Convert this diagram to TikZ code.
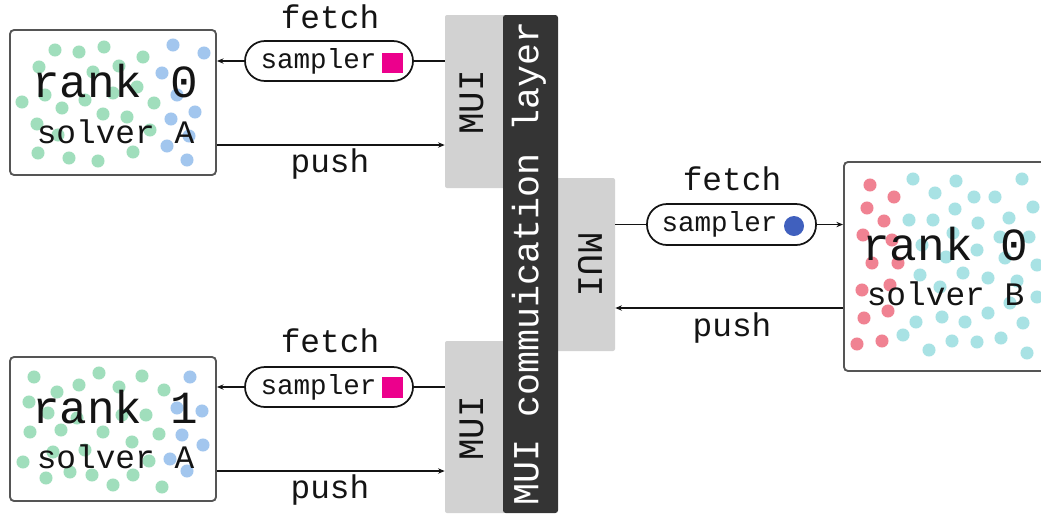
\documentclass[tikz,border=0pt]{standalone}
\usepackage{fontspec}
\setmonofont{Liberation Mono}
\usetikzlibrary{arrows.meta,fit}

\definecolor{dotgreen}{RGB}{160,222,188}
\definecolor{dotblue}{RGB}{162,198,238}
\definecolor{dotred}{RGB}{240,130,146}
\definecolor{dotcyan}{RGB}{168,226,228}
\definecolor{samplerpink}{RGB}{236,0,140}
\definecolor{samplerblue}{RGB}{64,96,190}
\definecolor{muigray}{RGB}{210,210,210}
\definecolor{layerdark}{RGB}{52,52,52}
\definecolor{boxgray}{RGB}{85,85,85}
\definecolor{inkblack}{RGB}{20,20,20}

\begin{document}
\begin{tikzpicture}[x=0.75pt,y=-0.75pt,
  solverbox/.style={draw=boxgray, line width=1.4pt, fill=white, rounded corners=3pt, inner sep=0pt},
  muibox/.style={fill=muigray, rounded corners=1.5pt, inner sep=0pt},
  layerbar/.style={fill=layerdark, rounded corners=2pt, inner sep=0pt},
  pill/.style={draw=inkblack, line width=1.3pt, rounded corners=15pt, fill=white, inner sep=0pt},
  link/.style={line width=1.3pt, draw=inkblack},
  flow/.style={link, -{Stealth[length=5pt,width=4pt]}},
  lbl/.style={inner sep=0pt, anchor=base, text=inkblack},
  big/.style={lbl, font=\ttfamily\fontsize{34.5}{36}\selectfont},
  mid/.style={lbl, font=\ttfamily\fontsize{24.6}{26}\selectfont},
  small/.style={lbl, font=\ttfamily\fontsize{20.7}{22}\selectfont},
  muitext/.style={inner sep=0pt, text=inkblack, font=\ttfamily\fontsize{26.9}{28}\selectfont},
  greendot/.style={fill=dotgreen},
  bluedot/.style={fill=dotblue},
  reddot/.style={fill=dotred},
  cyandot/.style={fill=dotcyan}]

\useasboundingbox (0,0) rectangle (1041,515);

% MUI interface blocks and the communication layer
\node[muibox, fit={(445,15) (506,188)}] (m0) {};
\node[muibox, fit={(445,341) (506,513)}] (m2) {};
\node[muibox, fit={(555,178) (615,351)}] (m1) {};
\node[layerbar, fit={(503,15) (558,513)}] (layer) {};
\node[rotate=90, inner sep=0pt, text=white, font=\ttfamily\fontsize{27.5}{29}\selectfont] (layertext) at (529,263) {MUI commuication layer};
\node[muitext, rotate=90] (m0t) at (471.5,102.5) {MUI};
\node[muitext, rotate=90] (m2t) at (471.5,428.5) {MUI};
\node[muitext, rotate=-90] (m1t) at (590,265) {MUI};

% solver boxes
\node[solverbox, fit={(10,30) (216,175)}] (a0) {};
\node[solverbox, fit={(10,357) (216,501)}] (a1) {};
\node[solverbox, fit={(844,162) (1060,371)}] (b0) {};

% particles of solver A, rank 0
\foreach \x/\y in {55/50,79/52,104/47,143/57,39/67,119/66,93/72,22/102,45/95,62/108,85/100,113/93,137/87,154/103,103/114,127/117,37/124,58/135,150/130,38/153,69/158,98/161,133/152}
  \fill[greendot] (\x,\y) circle[radius=4.9pt];
\foreach \x/\y in {173/45,204/53,162/73,177/95,195/112,171/119,189/136,167/146,187/160}
  \fill[bluedot] (\x,\y) circle[radius=4.9pt];

% particles of solver A, rank 1
\foreach \x/\y in {34/377,99/373,142/376,79/385,57/392,119/387,164/390,29/402,48/413,77/418,122/415,146/415,30/432,61/430,103/432,159/434,132/442,23/462,53/452,85/450,149/461,70/472,92/475,133/475,46/478,113/485,162/487}
  \fill[greendot] (\x,\y) circle[radius=4.9pt];
\foreach \x/\y in {190/377,177/408,202/411,182/435,203/445,170/459,187/471}
  \fill[bluedot] (\x,\y) circle[radius=4.9pt];

% particles of solver B, rank 0
\foreach \x/\y in {870/185,894/197,867/208,884/221,863/235,892/240,872/263,898/263,862/290,890/285,864/318,888/311,857/344,882/341}
  \fill[reddot] (\x,\y) circle[radius=4.9pt];
\foreach \x/\y in {913/179,956/181,1022/179,935/193,974/197,995/197,955/209,1033/207,909/220,933/220,978/223,1009/218,953/233,1000/237,1029/237,922/245,977/250,946/257,1005/258,1037/265,920/275,963/273,988/278,1017/281,940/287,1037/297,1010/303,916/322,942/317,965/322,988/313,1023/323,903/335,929/350,952/341,977/342,1001/338,1027/353}
  \fill[cyandot] (\x,\y) circle[radius=4.9pt];

% solver labels
\node[big] (a0r) at (115,97) {rank 0};
\node[mid] (a0s) at (115.5,143) {solver A};
\node[big] (a1r) at (115,423) {rank 1};
\node[mid] (a1s) at (115.5,468) {solver A};
\node[big] (b0r) at (945,260) {rank 0};
\node[mid] (b0s) at (945.5,305) {solver B};

% samplers
\node[pill, fit={(245,41) (413,81)}] (s0) {};
\node[small] (s0t) at (318.5,68) {sampler};
\node[fill=samplerpink, minimum size=15.5pt, inner sep=0pt] (q0) at (392.5,63) {};

\node[pill, fit={(245,367) (413,407)}] (s2) {};
\node[small] (s2t) at (318.5,394) {sampler};
\node[fill=samplerpink, minimum size=15.5pt, inner sep=0pt] (q2) at (392.5,387.5) {};

\node[pill, fit={(647,204) (816,245)}] (s1) {};
\node[small] (s1t) at (719.5,231.5) {sampler};
\node[circle, fill=samplerblue, minimum size=15pt, inner sep=0pt] (c1) at (794,226) {};

% fetch / push labels
\node[mid] (f0) at (330,28) {fetch};
\node[mid] (p0) at (330,172) {push};
\node[mid] (f2) at (330,352) {fetch};
\node[mid] (p2) at (330,498) {push};
\node[mid] (f1) at (732,190) {fetch};
\node[mid] (p1) at (732,336) {push};

% connectors
\draw[link] (m0.west |- s0.east) -- (s0.east);
\draw[flow] (s0.west) -- (s0.west -| a0.east);
\draw[flow] (a0.east |- 0,145) -- (m0.west |- 0,145);

\draw[link] (m2.west |- s2.east) -- (s2.east);
\draw[flow] (s2.west) -- (s2.west -| a1.east);
\draw[flow] (a1.east |- 0,471) -- (m2.west |- 0,471);

\draw[link] (m1.east |- s1.west) -- (s1.west);
\draw[flow] (s1.east) -- (s1.east -| b0.west);
\draw[flow] (b0.west |- 0,308) -- (m1.east |- 0,308);
\end{tikzpicture}
\end{document}
